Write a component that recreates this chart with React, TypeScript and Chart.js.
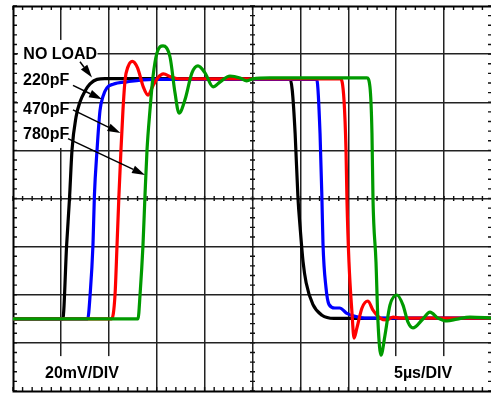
import React, { useEffect, useRef } from "react";
import { Chart, registerables } from "chart.js";

Chart.register(...registerables);

// Time axis in µs (5 µs/DIV), voltage axis in mV (20 mV/DIV)
const xMin = 0;
const xMax = 50;
const xStep = 5;
const yMin = -80;
const yMax = 80;
const yStep = 20;

const seriesNames = ["NO LOAD", "220pF", "470pF", "780pF"];
const seriesColors = ["#000000", "#0000ff", "#ff0000", "#009a00"];

const noLoadX = [0, 5.2, 5.6, 5.9, 6.16, 6.58, 6.99, 7.52, 8.04, 8.77, 9.6, 28.9, 29.15, 29.45, 29.75, 29.97, 30.27, 30.6, 31.3, 32.25, 33.5, 50];
const noLoadY = [-50, -50, -19.3, 0.2, 20.2, 33.9, 40.1, 44.7, 47.6, 49.5, 49.8, 49.8, 45, 27, 0, -12, -26, -35, -44, -48.5, -49.8, -49.8];

const pf220X = [0, 7.8, 8.05, 8.35, 8.5, 8.77, 9.08, 9.4, 9.8, 10.45, 11.9, 14.6, 31.7, 32.05, 32.25, 32.36, 32.67, 32.98, 33.6, 34.1, 34.8, 35.7, 36.7, 50];
const pf220Y = [-50, -50, -40, -19, 1.5, 20, 36.5, 42.5, 46, 47.5, 48.5, 49.5, 49.5, 27, -0.6, -19, -37, -44, -45.5, -45.5, -47.6, -49, -49.7, -49.7];

const pf470X = [0, 10.3, 10.65, 10.86, 11.06, 11.27, 11.48, 11.7, 12.0, 12.45, 13.0, 13.6, 14.1, 14.6, 15.1, 15.7, 16.5, 17.5, 19, 34.2, 34.55, 34.76, 34.86, 35.07, 35.38, 35.6, 35.9, 36.43, 37.05, 37.58, 38.31, 39.04, 39.67, 40.4, 50];
const pf470Y = [-50, -50, -40, -19.3, 1.5, 20.2, 36.8, 49.3, 54.7, 57, 54.3, 46.4, 43, 46.8, 50.1, 51.8, 50.5, 49.7, 49.7, 49.7, 41, 20.2, -0.6, -26.4, -47.2, -58, -53.8, -45.5, -42.6, -46.4, -49.7, -50.5, -49.3, -49.7, -49.7];

const pf780X = [0, 13.05, 13.26, 13.57, 13.78, 13.99, 14.3, 14.61, 15.03, 15.66, 16.39, 16.91, 17.33, 17.95, 18.68, 19.31, 20.04, 20.88, 21.6, 22.65, 23.7, 24.4, 25.05, 26.8, 36.95, 37.26, 37.47, 37.58, 37.89, 38.1, 38.41, 38.83, 39.35, 40.08, 40.71, 41.23, 41.75, 42.69, 43.53, 44.36, 45.3, 46.35, 47.7, 50];
const pf780Y = [-50, -50, -40.1, -19.3, 1.5, 20.2, 36.8, 50.5, 60.5, 63.4, 58.8, 43.9, 35.5, 41, 52.2, 55.1, 52.2, 46.4, 48.4, 50.9, 50.1, 48.9, 49.7, 50.1, 50.1, 46.4, 27.2, -0.6, -26.4, -51.4, -65.1, -56.8, -44.3, -40.1, -44.3, -51.4, -53.8, -50.5, -47.2, -49.7, -50.9, -50.1, -49.3, -49.7];

const seriesX = [noLoadX, pf220X, pf470X, pf780X];
const seriesY = [noLoadY, pf220Y, pf470Y, pf780Y];

// Annotation texts (data units: µs, mV)
const labelTexts = ["NO LOAD", "220pF", "470pF", "780pF", "20mV/DIV", "5\u00b5s/DIV"];
const labelX = [1.08, 1.05, 1.05, 1.05, 3.34, 39.77];
const labelY = [57.8, 47.0, 35.2, 24.9, -74.6, -74.6];

// Arrows from label to trace: [x0, y0, x1, y1]
const arrows = [
  [6.99, 56.8, 8.25, 50.3],
  [6.26, 47.0, 9.29, 41.2],
  [6.26, 36.8, 11.22, 27.2],
  [5.74, 24.9, 13.78, 9.8],
];

// White backgrounds behind the texts: [x0, x1, y0, y1]
const maskBoxes = [
  [0.52, 5.74, 65.9, 21.0],
  [0.52, 8.82, 65.5, 55.9],
  [2.82, 11.69, -65.5, -78.2],
  [38.83, 46.87, -65.5, -78.2],
];

const FONT = 'bold 16px "Liberation Sans", Arial, Helvetica, sans-serif';

const scopePlugin = {
  id: "scope",
  beforeDatasetsDraw(chart: any) {
    const { ctx, chartArea, scales } = chart;
    const { left, right, top, bottom } = chartArea;
    const xs = scales.x;
    const ys = scales.y;
    ctx.save();
    ctx.fillStyle = "#ffffff";
    for (const b of maskBoxes) {
      const x1 = xs.getPixelForValue(b[0]);
      const x2 = xs.getPixelForValue(b[1]);
      const y1 = ys.getPixelForValue(b[2]);
      const y2 = ys.getPixelForValue(b[3]);
      ctx.fillRect(Math.min(x1, x2), Math.min(y1, y2), Math.abs(x2 - x1), Math.abs(y2 - y1));
    }
    // minor ticks
    ctx.strokeStyle = "#111";
    ctx.lineWidth = 1.4;
    ctx.beginPath();
    const cy = ys.getPixelForValue(0);
    const cx = xs.getPixelForValue((xMin + xMax) / 2);
    const nx = ((xMax - xMin) / xStep) * 5;
    for (let i = 0; i <= nx; i++) {
      const px = xs.getPixelForValue(xMin + (i * xStep) / 5);
      ctx.moveTo(px, top);
      ctx.lineTo(px, top + 4);
      ctx.moveTo(px, bottom);
      ctx.lineTo(px, bottom - 4);
      ctx.moveTo(px, cy - 2.5);
      ctx.lineTo(px, cy + 2.5);
    }
    const ny = ((yMax - yMin) / yStep) * 5;
    for (let i = 0; i <= ny; i++) {
      const py = ys.getPixelForValue(yMin + (i * yStep) / 5);
      ctx.moveTo(left, py);
      ctx.lineTo(left + 4, py);
      ctx.moveTo(right, py);
      ctx.lineTo(right - 4, py);
      ctx.moveTo(cx - 2.5, py);
      ctx.lineTo(cx + 2.5, py);
    }
    ctx.stroke();
    ctx.strokeStyle = "#000";
    ctx.lineWidth = 2;
    ctx.strokeRect(left + 0.5, top + 0.5, right - left, bottom - top);
    ctx.restore();
  },
  afterDatasetsDraw(chart: any) {
    const { ctx, scales } = chart;
    const xs = scales.x;
    const ys = scales.y;
    ctx.save();
    ctx.fillStyle = "#000";
    ctx.font = FONT;
    ctx.textBaseline = "alphabetic";
    ctx.textAlign = "left";
    labelTexts.forEach((t, i) => {
      ctx.fillText(t, xs.getPixelForValue(labelX[i]), ys.getPixelForValue(labelY[i]));
    });
    ctx.strokeStyle = "#000";
    ctx.lineWidth = 1.5;
    for (const a of arrows) {
      const x0 = xs.getPixelForValue(a[0]);
      const y0 = ys.getPixelForValue(a[1]);
      const x1 = xs.getPixelForValue(a[2]);
      const y1 = ys.getPixelForValue(a[3]);
      const ang = Math.atan2(y1 - y0, x1 - x0);
      const hl = 13;
      const hw = 4;
      const bx = x1 - hl * Math.cos(ang);
      const by = y1 - hl * Math.sin(ang);
      ctx.beginPath();
      ctx.moveTo(x0, y0);
      ctx.lineTo(bx, by);
      ctx.stroke();
      ctx.beginPath();
      ctx.moveTo(x1, y1);
      ctx.lineTo(bx + hw * Math.sin(ang), by - hw * Math.cos(ang));
      ctx.lineTo(bx - hw * Math.sin(ang), by + hw * Math.cos(ang));
      ctx.closePath();
      ctx.fill();
    }
    ctx.restore();
  },
};

export default function App() {
  const canvasRef = useRef<HTMLCanvasElement | null>(null);

  useEffect(() => {
    const canvas = canvasRef.current;
    if (!canvas) return;
    const datasets = seriesNames.map((name, i) => ({
      label: name,
      data: seriesX[i].map((xv, j) => ({ x: xv, y: seriesY[i][j] })),
      borderColor: seriesColors[i],
      backgroundColor: seriesColors[i],
      borderWidth: 3.2,
      pointRadius: 0,
      fill: false,
      cubicInterpolationMode: "monotone" as const,
      order: seriesNames.length - i,
    }));
    const xGridColor = (c: any) =>
      c.tick && (c.tick.value === xMin || c.tick.value === xMax) ? "rgba(0,0,0,0)" : "#222";
    const yGridColor = (c: any) =>
      c.tick && (c.tick.value === yMin || c.tick.value === yMax) ? "rgba(0,0,0,0)" : "#222";
    const chart = new Chart(canvas, {
      type: "line",
      data: { datasets },
      options: {
        animation: false,
        responsive: false,
        devicePixelRatio: 1,
        layout: { padding: { left: 13, top: 6, right: 0, bottom: 4 } },
        plugins: { legend: { display: false }, tooltip: { enabled: false } },
        scales: {
          x: {
            type: "linear",
            min: xMin,
            max: xMax,
            ticks: { display: false, stepSize: xStep },
            grid: { color: xGridColor, lineWidth: 1.5, drawTicks: false },
            border: { display: false },
          },
          y: {
            type: "linear",
            min: yMin,
            max: yMax,
            ticks: { display: false, stepSize: yStep },
            grid: { color: yGridColor, lineWidth: 1.5, drawTicks: false },
            border: { display: false },
          },
        },
      },
      plugins: [scopePlugin],
    });
    return () => chart.destroy();
  }, []);

  return (
    <div
      style={{
        position: "absolute",
        left: 0,
        top: 0,
        width: 491,
        height: 395,
        overflow: "hidden",
        background: "#fff",
      }}
    >
      <canvas ref={canvasRef} width={492} height={395} style={{ display: "block" }} />
    </div>
  );
}
